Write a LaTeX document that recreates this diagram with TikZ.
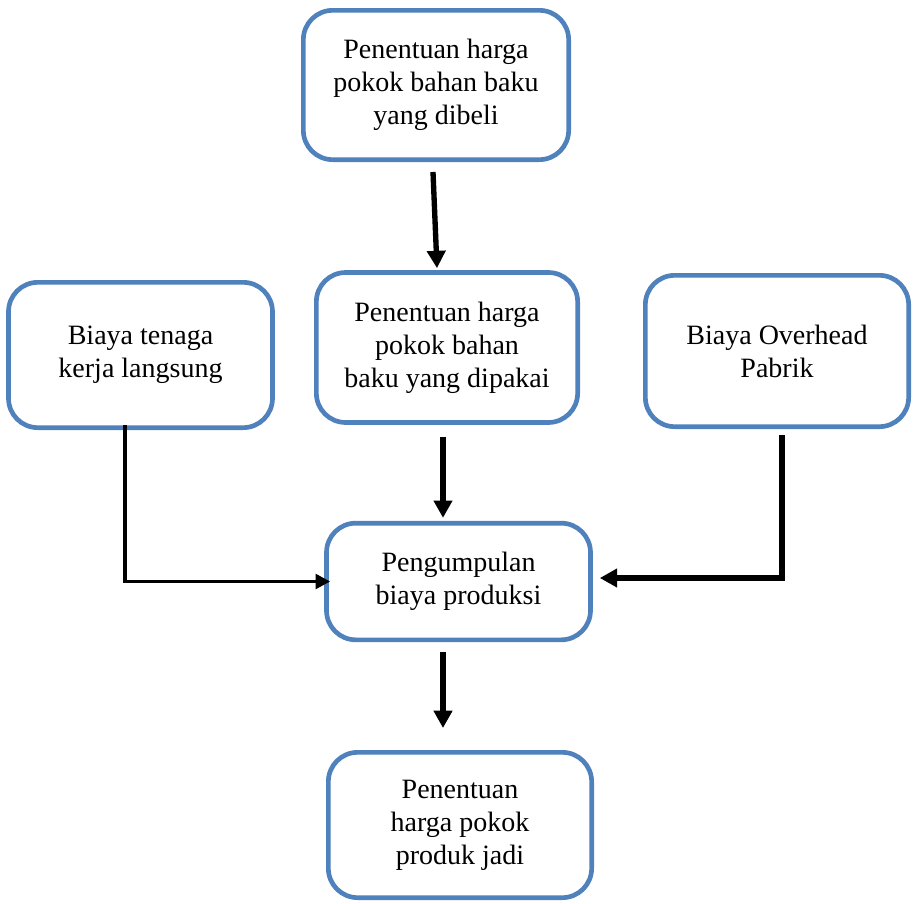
\documentclass[tikz,border=0pt]{standalone}
\usepackage{fontspec}
\setmainfont{Liberation Serif}
\usetikzlibrary{arrows.meta,positioning,calc}
\definecolor{boxblue}{RGB}{79,129,189}
\definecolor{arrblack}{RGB}{0,0,0}
\tikzset{
  costbox/.style={rectangle, rounded corners=22pt,
    draw=boxblue, fill=white, line width=3.5pt,
    align=center, font=\fontsize{21}{24.75}\selectfont},
  arr/.style={-{Triangle[length=13pt,width=13.5pt]}, line width=4pt, color=arrblack},
  thinarr/.style={-{Triangle[length=11pt,width=11pt]}, line width=2.8pt, color=arrblack}
}
\begin{document}
\begin{tikzpicture}[x=0.75pt, y=-0.75pt]
\useasboundingbox (0,0) rectangle (915,904);

%% ── TOP: purchased material ─────────────────────────────────────────
\node[costbox, minimum width=199pt, minimum height=112pt] at (436,85)
  (beli) {Penentuan harga\\pokok bahan baku\\yang dibeli};

%% ── MIDDLE ROW ──────────────────────────────────────────────────────
\node[costbox, minimum width=198pt, minimum height=109pt] at (140.5,355)
  (tenaga) {Biaya tenaga\\kerja langsung};
\node[costbox, minimum width=196pt, minimum height=112.5pt] at (447,347.5)
  (pakai) {Penentuan harga\\pokok bahan\\baku yang dipakai};
\node[costbox, minimum width=197.5pt, minimum height=113.5pt] at (777,351)
  (overhead) {Biaya Overhead\\Pabrik};

%% ── COLLECTION + RESULT ─────────────────────────────────────────────
\node[costbox, minimum width=198pt, minimum height=87.5pt] at (458.5,581.5)
  (kumpul) {Pengumpulan\\biaya produksi};
\node[costbox, minimum width=197.5pt, minimum height=109pt] at (460,825)
  (jadi) {Penentuan\\harga pokok\\produk jadi};

%% ── ARROWS ──────────────────────────────────────────────────────────
\draw[arr] ($(beli.south)+(-3,10)$) -- ($(pakai.north)+(-10,-2)$);
\draw[arr] ($(pakai.south)+(-4,12)$) -- ($(kumpul.north)+(-15.5,-3)$);
\draw[thinarr] ($(tenaga.south)+(-15.5,-5)$) |- ($(kumpul.west)+(6,0)$);
\draw[arr] ($(overhead.south)+(5,6)$) |- ($(kumpul.east)+(7,-3.5)$);
\draw[arr] ($(kumpul.south)+(-15.5,10)$) -- ($(jadi.north)+(-17,-22)$);

\end{tikzpicture}
\end{document}
